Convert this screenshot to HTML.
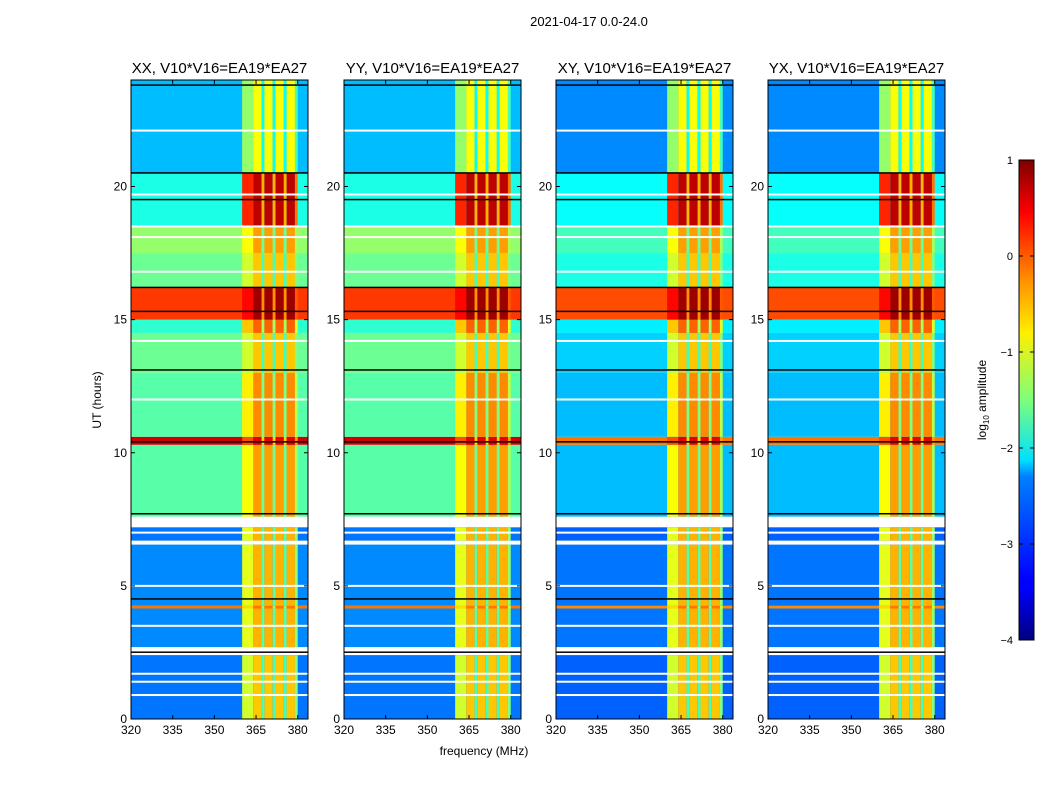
<!DOCTYPE html>
<html><head><meta charset="utf-8">
<style>
body{margin:0;background:#fff;width:1050px;height:800px;overflow:hidden;font-family:"Liberation Sans",sans-serif}
svg text{font-family:"Liberation Sans",sans-serif}
</style></head>
<body>
<svg id="chart" width="1050" height="800" xmlns="http://www.w3.org/2000/svg">
<text x="589" y="26" font-size="13" text-anchor="middle">2021-04-17 0.0-24.0</text>
<text x="484" y="755" font-size="12" text-anchor="middle">frequency (MHz)</text>
<text transform="translate(101,400) rotate(-90)" font-size="12" text-anchor="middle">UT (hours)</text>
<defs>
<linearGradient id="jet" x1="0" y1="1" x2="0" y2="0">
<stop offset="0" stop-color="#00007f"/><stop offset="0.11" stop-color="#0000ff"/><stop offset="0.125" stop-color="#0000ff"/>
<stop offset="0.34" stop-color="#0080ff"/><stop offset="0.375" stop-color="#00e0ff"/><stop offset="0.5" stop-color="#7dff7a"/>
<stop offset="0.64" stop-color="#ffef00"/><stop offset="0.75" stop-color="#ff9000"/><stop offset="0.89" stop-color="#ff0000"/><stop offset="1" stop-color="#7f0000"/>
</linearGradient>
</defs>
<g id="panels"></g>
<g id="cbar">
<rect x="1019" y="160" width="15" height="480" fill="url(#jet)" stroke="#000" stroke-width="1"/>
</g>
<text transform="translate(986,400) rotate(-90)" font-size="12" text-anchor="middle">log<tspan font-size="8" dy="3">10</tspan><tspan dy="-3"> amplitude</tspan></text>
</svg>
<script>
const panelTitles=["XX, V10*V16=EA19*EA27","YY, V10*V16=EA19*EA27","XY, V10*V16=EA19*EA27","YX, V10*V16=EA19*EA27"];
const panelType=["par","par","cross","cross"];
const segStart=[0,2.7,4.15,4.25,6.7,7.6,10.3,10.6,13.0,14.5,15.0,16.2,17.5,18.5,20.5];
const segEnd  =[2.4,4.15,4.25,6.55,7.2,10.3,10.6,13.0,14.5,15.0,16.2,17.5,18.5,20.5,24];
const segBgPar=[-2.8,-2.7,-0.2,-2.7,-2.8,-1.7,0.6,-1.7,-1.6,-1.9,0.1,-1.6,-1.4,-2.0,-2.45];
const segBgCross=[-2.9,-2.8,-0.3,-2.8,-2.9,-2.45,-0.2,-2.45,-2.35,-2.2,0.0,-2.0,-1.8,-2.1,-2.7];
const segBand=[-0.6,-0.5,-0.2,-0.5,-0.5,-0.4,0.5,-0.3,-0.6,-0.1,0.85,-0.6,-0.4,0.7,-0.9];
// frequency band profile (MHz); values added to band level
const freqStart=[360,364,367,368,371,372,375,376,379];
const freqEnd  =[364,367,368,371,372,375,376,379,380];
const freqOffset=[-0.5,0,-1.2,0,-1.2,0,-1.2,0,-0.9];
const whiteLines=[0.9,1.4,1.7,3.5,5.0,7.0,12.0,14.2,16.8,18.1,18.5,19.7,22.1];
const blackLines=[2.5,4.5,7.7,10.4,13.1,15.3,16.2,19.5,20.5,23.8];
const xTicks=[320,335,350,365,380];
const yTicks=[0,5,10,15,20];
const panelX=[131,344,556,768];
const PW=177,PT=80,PB=719,FMIN=320,FMAX=383.7,TMAX=24;
const cbTicks=[1,0,-1,-2,-3,-4];

function jet(v){let t=(v+4)/5;t=Math.max(0,Math.min(1,t));
 const r=Math.max(0,Math.min(1,1.5-Math.abs(4*t-3))),g=Math.max(0,Math.min(1,1.5-Math.abs(4*t-2))),b=Math.max(0,Math.min(1,1.5-Math.abs(4*t-1)));
 return `rgb(${Math.round(r*255)},${Math.round(g*255)},${Math.round(b*255)})`;}
const NS="http://www.w3.org/2000/svg";
function mk(tag,attrs,parent){const e=document.createElementNS(NS,tag);for(const k in attrs)e.setAttribute(k,attrs[k]);parent.appendChild(e);return e;}
const root=document.getElementById('panels');
panelX.forEach((px,p)=>{
 const xs=f=>px+(f-FMIN)/(FMAX-FMIN)*PW;
 const ys=t=>PB-t/TMAX*(PB-PT);
 const g=mk('g',{},root);
 
 
 const bgArr=panelType[p]==='par'?segBgPar:segBgCross;
 segStart.forEach((s,i)=>{
  const y0=ys(segEnd[i]),y1=ys(s);
  const r=mk('rect',{x:px,y:y0,width:PW,height:y1-y0,fill:jet(bgArr[i])},g);
  
  
  freqStart.forEach((f,j)=>{
   const c=mk('rect',{x:xs(f),y:y0,width:xs(freqEnd[j])-xs(f),height:y1-y0,fill:jet(segBand[i]+freqOffset[j])},g);
   
   
  });
 });
 whiteLines.forEach(t=>{const l=mk('rect',{x:px,y:ys(t)-1,width:PW,height:2,fill:'#fff'},g);
  
  });
 blackLines.forEach(t=>{const l=mk('rect',{x:px,y:ys(t)-1,width:PW,height:1.5,fill:'#000'},g);
  
  });
 const fr=mk('rect',{x:px,y:PT,width:PW,height:PB-PT,fill:'none',stroke:'#000','stroke-width':1},g);
 
 
 const tt=mk('text',{x:px+PW/2,y:PT-7,'font-size':15,'text-anchor':'middle'},g);tt.textContent=panelTitles[p];
 
 
 xTicks.forEach(v=>{const x=xs(v);mk('line',{x1:x,x2:x,y1:PB,y2:PB-4,stroke:'#000'},g);mk('line',{x1:x,x2:x,y1:PT,y2:PT+4,stroke:'#000'},g);
  const t=mk('text',{x:x,y:PB+15,'font-size':12,'text-anchor':'middle'},g);t.textContent=v;
  
  });
 yTicks.forEach(v=>{const y=ys(v);mk('line',{x1:px,x2:px+4,y1:y,y2:y,stroke:'#000'},g);mk('line',{x1:px+PW,x2:px+PW-4,y1:y,y2:y,stroke:'#000'},g);
  const t=mk('text',{x:px-4,y:y+4,'font-size':12,'text-anchor':'end'},g);t.textContent=v;
  
  });
});
const cb=document.getElementById('cbar');
cbTicks.forEach(v=>{const y=160+(1-v)/5*480;
 mk('line',{x1:1019,x2:1023,y1:y,y2:y,stroke:'#000'},cb);mk('line',{x1:1034,x2:1030,y1:y,y2:y,stroke:'#000'},cb);
 const t=mk('text',{x:1013,y:y+4,'font-size':11,'text-anchor':'end'},cb);t.textContent=v<0?'\u2212'+(-v):String(v);
 
 });
</script>
</body></html>
